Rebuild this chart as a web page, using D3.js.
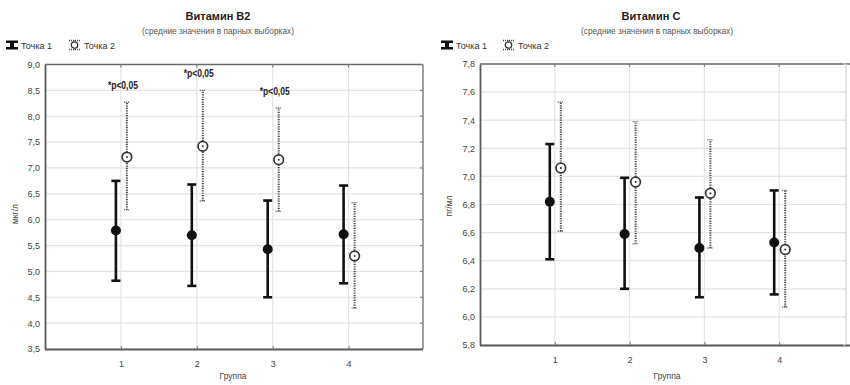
<!DOCTYPE html>
<html><head><meta charset="utf-8">
<script src="https://cdn.jsdelivr.net/npm/d3@7/dist/d3.min.js"></script>
<style>
body{margin:0;background:#fff;}
svg{display:block;font-family:"Liberation Sans",Arial,sans-serif;}
</style></head>
<body>
<svg id="c" width="850" height="385"></svg>
<script>
// ---- data ----
const groups = ["1", "2", "3", "4"];
const seriesNames = ["Точка 1", "Точка 2"];

// Витамин B2
const b2Point1Mean = [5.79, 5.70, 5.43, 5.72];
const b2Point1Low  = [4.82, 4.72, 4.50, 4.77];
const b2Point1High = [6.75, 6.68, 6.37, 6.66];
const b2Point2Mean = [7.21, 7.42, 7.16, 5.30];
const b2Point2Low  = [6.19, 6.36, 6.16, 4.29];
const b2Point2High = [8.27, 8.50, 8.16, 6.33];
const b2PLabels = ["*p<0,05", "*p<0,05", "*p<0,05", ""];
const b2Ticks = [3.5, 4.0, 4.5, 5.0, 5.5, 6.0, 6.5, 7.0, 7.5, 8.0, 8.5, 9.0];

// Витамин C
const cPoint1Mean = [6.82, 6.59, 6.49, 6.53];
const cPoint1Low  = [6.41, 6.20, 6.14, 6.16];
const cPoint1High = [7.23, 6.99, 6.85, 6.90];
const cPoint2Mean = [7.06, 6.96, 6.88, 6.48];
const cPoint2Low  = [6.61, 6.52, 6.49, 6.07];
const cPoint2High = [7.53, 7.39, 7.26, 6.90];
const cPLabels = ["", "", "", ""];
const cTicks = [5.8, 6.0, 6.2, 6.4, 6.6, 6.8, 7.0, 7.2, 7.4, 7.6, 7.8];

const svg = d3.select("#c");
const fmt = v => d3.format(".1f")(v).replace(".", ",");

function drawChart(o) {
  const g = svg.append("g");
  const x = d3.scaleLinear().domain([0, groups.length + 1]).range([o.left, o.xEnd]);
  const y = d3.scaleLinear().domain(o.yDomain).range([o.bottom, o.top]);
  const right = o.right;

  // gridlines
  g.selectAll(".hg").data(o.ticks).join("line")
    .attr("x1", o.left).attr("x2", right)
    .attr("y1", d => y(d)).attr("y2", d => y(d))
    .attr("stroke", "#e4e4e4").attr("stroke-width", 1.2);
  g.selectAll(".vg").data(groups).join("line")
    .attr("x1", (d, i) => x(i + 1)).attr("x2", (d, i) => x(i + 1))
    .attr("y1", o.top).attr("y2", o.bottom)
    .attr("stroke", "#e4e4e4").attr("stroke-width", 1.2);

  // frame
  g.append("line").attr("x1", o.left).attr("x2", o.frameTopEnd).attr("y1", o.top).attr("y2", o.top)
    .attr("stroke", "#6a6a6a").attr("stroke-width", 1.6);
  g.append("line").attr("x1", right).attr("x2", right).attr("y1", o.top).attr("y2", o.bottom)
    .attr("stroke", o.rightColor).attr("stroke-width", 1.4);

  // y axis
  const ya = d3.axisLeft(y).tickValues(o.ticks).tickFormat(fmt).tickSize(0).tickPadding(5);
  const yg = g.append("g").attr("transform", `translate(${o.left},0)`).call(ya);
  yg.select(".domain").attr("stroke", "#5a5a5a").attr("stroke-width", 1.8);
  yg.selectAll("text").attr("font-size", 9).attr("fill", "#444").attr("font-family", "Liberation Sans, Arial");

  // x axis
  const xa = d3.axisBottom(x).tickValues(groups.map((d, i) => i + 1)).tickFormat((d, i) => groups[i]).tickSize(3).tickPadding(9);
  const xg = g.append("g").attr("transform", `translate(0,${o.bottom})`).call(xa);
  xg.select(".domain").attr("d", `M${o.left},0.5H${o.frameTopEnd}`).attr("stroke", "#5a5a5a").attr("stroke-width", 1.8);
  xg.selectAll(".tick line").attr("stroke", "#777").attr("transform", "translate(0,-3)");
  xg.selectAll("text").attr("font-size", 9).attr("fill", "#444");

  // top tick marks & right tick marks
  g.selectAll(".tt").data(groups).join("line")
    .attr("x1", (d, i) => x(i + 1)).attr("x2", (d, i) => x(i + 1))
    .attr("y1", o.top).attr("y2", o.top + 3).attr("stroke", "#777");
  g.selectAll(".rt").data(o.ticks).join("line")
    .attr("x1", right - 3).attr("x2", right)
    .attr("y1", d => y(d)).attr("y2", d => y(d)).attr("stroke", o.rightColor);

  // Точка 1 error bars (solid)
  const off1 = -5, off2 = 6;
  const s1 = g.append("g");
  groups.forEach((grp, i) => {
    const cx = x(i + 1) + off1;
    s1.append("line").attr("x1", cx).attr("x2", cx).attr("y1", y(o.p1Low[i])).attr("y2", y(o.p1High[i]))
      .attr("stroke", "#111").attr("stroke-width", 2.6);
    [o.p1Low[i], o.p1High[i]].forEach(v => {
      s1.append("line").attr("x1", cx - 4.5).attr("x2", cx + 4.5).attr("y1", y(v)).attr("y2", y(v))
        .attr("stroke", "#111").attr("stroke-width", 2.6);
    });
    s1.append("circle").attr("cx", cx).attr("cy", y(o.p1Mean[i])).attr("r", 5).attr("fill", "#111");
  });

  // Точка 2 error bars (dotted)
  const s2 = g.append("g");
  groups.forEach((grp, i) => {
    const cx = x(i + 1) + off2;
    s2.append("line").attr("x1", cx).attr("x2", cx).attr("y1", y(o.p2Low[i])).attr("y2", y(o.p2High[i]))
      .attr("stroke", "#444").attr("stroke-width", 2).attr("stroke-dasharray", "1.2,1.2");
    [o.p2Low[i], o.p2High[i]].forEach(v => {
      s2.append("line").attr("x1", cx - 3).attr("x2", cx + 3).attr("y1", y(v)).attr("y2", y(v))
        .attr("stroke", "#555").attr("stroke-width", 1.4).attr("stroke-dasharray", "1,1");
    });
    s2.append("circle").attr("cx", cx).attr("cy", y(o.p2Mean[i])).attr("r", 4.8)
      .attr("fill", "#fff").attr("stroke", "#333").attr("stroke-width", 1.7);
    s2.append("circle").attr("cx", cx).attr("cy", y(o.p2Mean[i])).attr("r", 1).attr("fill", "#333");
    if (o.pLabels[i]) {
      g.append("text").attr("x", cx - 4).attr("y", y(o.p2High[i]) - 13)
        .attr("text-anchor", "middle").attr("font-size", 10).attr("font-weight", "bold")
        .attr("textLength", 30).attr("lengthAdjust", "spacingAndGlyphs")
        .attr("fill", "#222").text(o.pLabels[i]);
    }
  });

  // titles
  g.append("text").attr("x", o.titleX).attr("y", 20).attr("text-anchor", "middle")
    .attr("font-size", 11).attr("font-weight", "bold").attr("fill", "#222").text(o.title);
  g.append("text").attr("x", o.subX).attr("y", 34).attr("text-anchor", "middle")
    .attr("font-size", 8.3).attr("fill", "#555").text("(средние значения в парных выборках)");

  // axis titles
  g.append("text").attr("transform", `translate(${o.yLabelX},${o.yLabelY}) rotate(-90)`)
    .attr("text-anchor", "middle").attr("font-size", 8.5).attr("fill", "#444").text(o.yLabel);
  g.append("text").attr("x", o.xLabelX).attr("y", 379).attr("text-anchor", "middle")
    .attr("font-size", 8.5).attr("fill", "#444").text("Группа");

  // legend
  const lg = g.append("g").attr("transform", `translate(${o.legendX},45)`);
  // icon 1: solid I-beam
  lg.append("path").attr("d", "M0,-4.5H12V-2H8V2H12V4.5H0V2H4V-2H0Z").attr("fill", "#111");
  lg.append("text").attr("x", 15).attr("y", 3.5).attr("font-size", 9).attr("fill", "#333").text(seriesNames[0]);
  const i2 = lg.append("g").attr("transform", `translate(${o.legend2dx},0)`);
  i2.append("path").attr("d", "M0,-4.5H11M0,4.5H11M5.5,-4.5V4.5").attr("stroke", "#444").attr("stroke-width", 1.5)
    .attr("stroke-dasharray", "1,1").attr("fill", "none");
  i2.append("circle").attr("cx", 5.5).attr("cy", 0).attr("r", 3.2).attr("fill", "#fff").attr("stroke", "#333").attr("stroke-width", 1.3);
  lg.append("text").attr("x", o.legend2dx + 15).attr("y", 3.5).attr("font-size", 9).attr("fill", "#333").text(seriesNames[1]);
}

drawChart({
  left: 45, xEnd: 424.5, right: 423, frameTopEnd: 423, rightColor: "#777",
  top: 64.5, bottom: 349, yDomain: [3.5, 9.0], ticks: b2Ticks,
  p1Mean: b2Point1Mean, p1Low: b2Point1Low, p1High: b2Point1High,
  p2Mean: b2Point2Mean, p2Low: b2Point2Low, p2High: b2Point2High,
  pLabels: b2PLabels, title: "Витамин B2", titleX: 218, subX: 218,
  yLabel: "мкг/л", yLabelX: 18, yLabelY: 214, xLabelX: 233,
  legendX: 6, legend2dx: 63
});

drawChart({
  left: 480, xEnd: 854, right: 846, frameTopEnd: 850, rightColor: "#d8d8d8",
  top: 64, bottom: 345, yDomain: [5.8, 7.8], ticks: cTicks,
  p1Mean: cPoint1Mean, p1Low: cPoint1Low, p1High: cPoint1High,
  p2Mean: cPoint2Mean, p2Low: cPoint2Low, p2High: cPoint2High,
  pLabels: cPLabels, title: "Витамин C", titleX: 651, subX: 657,
  yLabel: "пг/мл", yLabelX: 452, yLabelY: 206, xLabelX: 667,
  legendX: 441, legend2dx: 62
});
</script>
</body></html>
